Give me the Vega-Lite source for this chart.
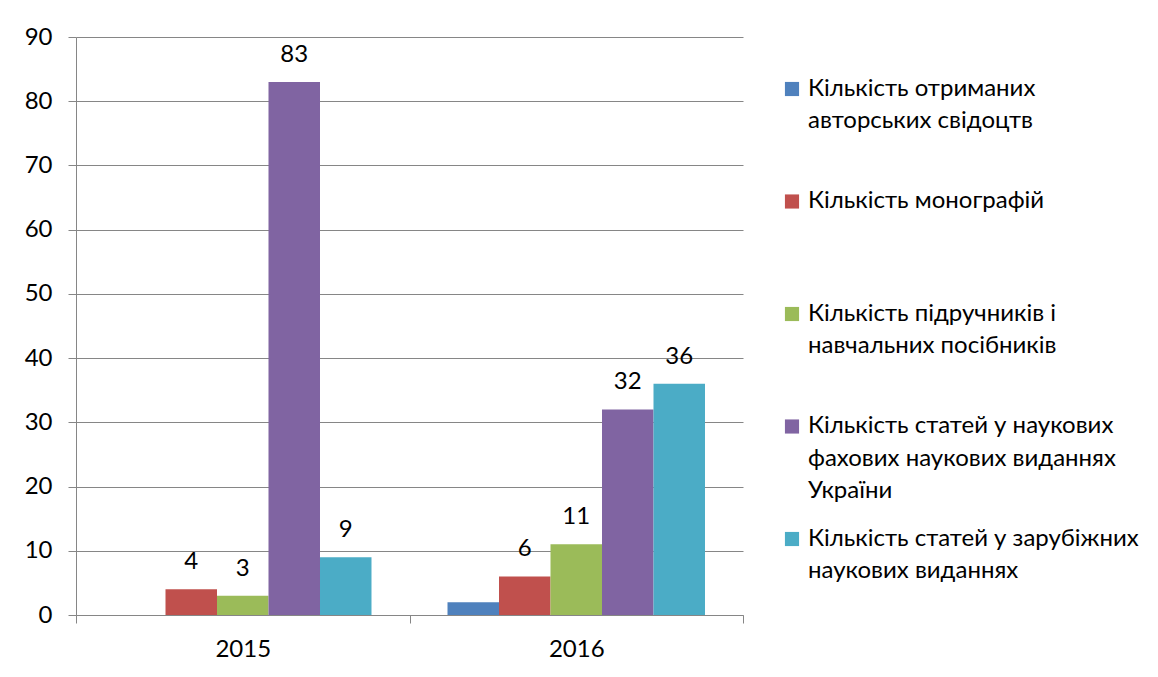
{
  "$schema": "https://vega.github.io/schema/vega-lite/v6.json",
  "width": 667,
  "height": 578,
  "autosize": "none",
  "padding": {"left": 76, "top": 37, "right": 415, "bottom": 62},
  "background": "white",
  "config": {"view": {"stroke": null}, "font": "Lato"},
  "data": {
    "values": [
      {"year": "2015", "series": "Кількість отриманих авторських свідоцтв", "value": 0},
      {"year": "2015", "series": "Кількість монографій", "value": 4},
      {"year": "2015", "series": "Кількість підручників і навчальних посібників", "value": 3},
      {"year": "2015", "series": "Кількість статей у наукових фахових наукових виданнях України", "value": 83},
      {"year": "2015", "series": "Кількість статей у зарубіжних наукових виданнях", "value": 9},
      {"year": "2016", "series": "Кількість отриманих авторських свідоцтв", "value": 2},
      {"year": "2016", "series": "Кількість монографій", "value": 6},
      {"year": "2016", "series": "Кількість підручників і навчальних посібників", "value": 11},
      {"year": "2016", "series": "Кількість статей у наукових фахових наукових виданнях України", "value": 32},
      {"year": "2016", "series": "Кількість статей у зарубіжних наукових виданнях", "value": 36}
    ]
  },
  "encoding": {
    "x": {
      "field": "year", "type": "nominal",
      "scale": {"paddingInner": 0, "paddingOuter": 0},
      "axis": {"title": null, "labelAngle": 0, "tickBand": "extent", "ticks": true, "tickSize": 8,
               "tickColor": "#868686", "domainColor": "#868686", "labelFontSize": 24, "labelPadding": 14,
               "labelColor": "black", "grid": false}
    },
    "xOffset": {
      "field": "series", "type": "nominal",
      "sort": ["Кількість отриманих авторських свідоцтв", "Кількість монографій", "Кількість підручників і навчальних посібників", "Кількість статей у наукових фахових наукових виданнях України", "Кількість статей у зарубіжних наукових виданнях"],
      "scale": {"paddingInner": 0, "paddingOuter": 0.738}
    },
    "y": {
      "field": "value", "type": "quantitative",
      "scale": {"domain": [0, 90]},
      "axis": {"title": null, "values": [0, 10, 20, 30, 40, 50, 60, 70, 80, 90], "tickSize": 8, "labelPadding": 16,
               "grid": true, "gridColor": "#868686", "domainColor": "#868686", "tickColor": "#868686",
               "labelFontSize": 24, "labelColor": "black"}
    }
  },
  "layer": [
    {
      "mark": {"type": "bar"},
      "encoding": {
        "color": {
          "field": "series", "type": "nominal",
          "scale": {
            "domain": ["Кількість отриманих авторських свідоцтв", "Кількість монографій", "Кількість підручників і навчальних посібників", "Кількість статей у наукових фахових наукових виданнях України", "Кількість статей у зарубіжних наукових виданнях"],
            "range": ["#4F81BD", "#C0504D", "#9BBB59", "#8064A2", "#4BACC6"]
          },
          "legend": {
            "title": null, "orient": "none", "legendX": 704, "legendY": 40, "padding": 0,
            "symbolType": "square", "symbolSize": 200, "symbolStrokeWidth": 0,
            "labelFontSize": 24, "labelColor": "black", "labelLimit": 0, "labelOffset": 4,
            "labelBaseline": "top", "gridAlign": "all", "rowPadding": 22.5,
            "labelExpr": "datum.label == 'Кількість отриманих авторських свідоцтв' ? ['Кількість отриманих','авторських свідоцтв'] : datum.label == 'Кількість підручників і навчальних посібників' ? ['Кількість підручників і','навчальних посібників'] : datum.label == 'Кількість статей у наукових фахових наукових виданнях України' ? ['Кількість статей у наукових','фахових наукових виданнях','України'] : datum.label == 'Кількість статей у зарубіжних наукових виданнях' ? ['Кількість статей у зарубіжних','наукових виданнях'] : datum.label",
            "encode": {"labels": {"update": {"lineHeight": {"value": 32.5}, "dy": {"value": -12.5}}}}
          }
        }
      }
    },
    {
      "transform": [{"filter": "datum.series != 'Кількість отриманих авторських свідоцтв'"}],
      "mark": {"type": "text", "baseline": "alphabetic", "dy": -20, "fontSize": 24, "color": "black"},
      "encoding": {"text": {"field": "value", "type": "quantitative"}}
    }
  ]
}
